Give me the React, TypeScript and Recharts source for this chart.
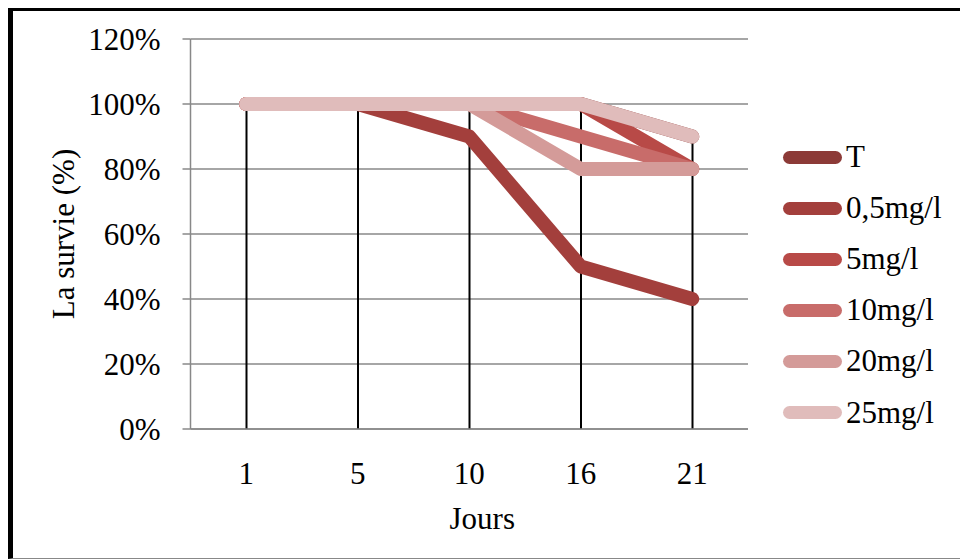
import { ComposedChart, Line, Bar, XAxis, YAxis, CartesianGrid, Label } from "recharts";

const DAYS = ["1", "5", "10", "16", "21"];
const SERIES_NAMES = ["T", "0,5mg/l", "5mg/l", "10mg/l", "20mg/l", "25mg/l"];
const SERIES_COLORS = ["#8c3a37", "#a33f3c", "#b84a47", "#c86c6a", "#d49b99", "#e0bcbb"];
const T_VALUES = [100, 100, 100, 100, 90];
const C05_VALUES = [100, 100, 90, 50, 40];
const C5_VALUES = [100, 100, 100, 100, 80];
const C10_VALUES = [100, 100, 100, 90, 80];
const C20_VALUES = [100, 100, 100, 80, 80];
const C25_VALUES = [100, 100, 100, 100, 90];
const Y_TICKS = [0, 20, 40, 60, 80, 100, 120];

const SERIES_VALUES = [T_VALUES, C05_VALUES, C5_VALUES, C10_VALUES, C20_VALUES, C25_VALUES];
const KEYS = ["t", "c05", "c5", "c10", "c20", "c25"];

const data = DAYS.map((day, i) => {
  const row: Record<string, number | string> = { day };
  SERIES_VALUES.forEach((vals, s) => {
    row[KEYS[s]] = vals[i];
  });
  // drop line reaches the highest point of the day
  row.drop = Math.max(...SERIES_VALUES.map((vals) => vals[i]));
  return row;
});

const FONT = "'Liberation Serif', 'Times New Roman', serif";
const FONT_SIZE = 31;
const GRID = "#888888";

export default function App() {
  return (
    <div style={{ position: "fixed", left: 0, top: 0, width: 960, height: 559, background: "#fff", overflow: "hidden" }}>
      <div
        style={{
          position: "absolute",
          left: 8,
          top: 8,
          width: 952,
          height: 551,
          boxSizing: "border-box",
          borderTop: "3px solid #000",
          borderLeft: "5px solid #000",
          borderBottom: "1px solid #888",
        }}
      />
      <div style={{ position: "absolute", left: 0, top: 0 }}>
        <ComposedChart
          width={960}
          height={559}
          data={data}
          margin={{ top: 39, right: 212, bottom: 129, left: 189.5 }}
          style={{ fontFamily: FONT }}
        >
          <CartesianGrid vertical={false} stroke={GRID} strokeWidth={1.5} />
          <XAxis
            dataKey="day"
            height={1}
            tickLine={false}
            axisLine={{ stroke: GRID, strokeWidth: 1.5 }}
            tickMargin={27}
            tick={{ fill: "#000", fontSize: FONT_SIZE, fontFamily: FONT }}
            interval={0}
          >
            <Label
              content={({ viewBox }: any) => (
                <text
                  x={viewBox.x + viewBox.width / 2 + 13}
                  y={529}
                  textAnchor="middle"
                  fill="#000"
                  fontSize={FONT_SIZE}
                  fontFamily={FONT}
                >
                  Jours
                </text>
              )}
            />
          </XAxis>
          <YAxis
            width={1}
            domain={[0, 120]}
            ticks={Y_TICKS}
            interval={0}
            tickFormatter={(v: number) => `${v}%`}
            tickSize={8}
            tickMargin={22}
            tickLine={{ stroke: GRID, strokeWidth: 1.5 }}
            axisLine={{ stroke: GRID, strokeWidth: 1.5 }}
            tick={{ fill: "#000", fontSize: FONT_SIZE, fontFamily: FONT }}
          >
            <Label
              content={({ viewBox }: any) => {
                const cx = 74;
                const cy = viewBox.y + viewBox.height / 2;
                return (
                  <text
                    x={cx}
                    y={cy}
                    transform={`rotate(-90 ${cx} ${cy})`}
                    textAnchor="middle"
                    fill="#000"
                    fontSize={FONT_SIZE}
                    fontFamily={FONT}
                  >
                    La survie (%)
                  </text>
                );
              }}
            />
          </YAxis>
          <Bar dataKey="drop" barSize={2} fill="#000" isAnimationActive={false} />
          {KEYS.map((key, s) => (
            <Line
              key={key}
              type="linear"
              dataKey={key}
              name={SERIES_NAMES[s]}
              stroke={SERIES_COLORS[s]}
              strokeWidth={14}
              strokeLinecap="round"
              strokeLinejoin="round"
              dot={false}
              activeDot={false}
              isAnimationActive={false}
            />
          ))}
        </ComposedChart>
      </div>
      {SERIES_NAMES.map((name, s) => (
        <div
          key={name}
          style={{
            position: "absolute",
            left: 783,
            top: 157 + s * 51.1 - 20,
            height: 40,
            display: "flex",
            alignItems: "center",
            fontFamily: FONT,
            fontSize: FONT_SIZE,
            color: "#000",
            whiteSpace: "nowrap",
          }}
        >
          <div style={{ width: 59, height: 13, borderRadius: 7, background: SERIES_COLORS[s], marginRight: 4 }} />
          <span>{name}</span>
        </div>
      ))}
    </div>
  );
}
